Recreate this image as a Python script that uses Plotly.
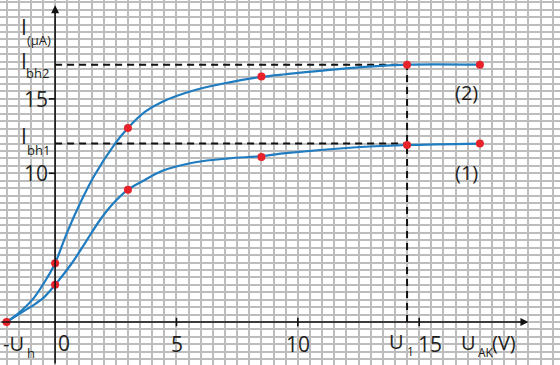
import plotly.graph_objects as go

# ---- data ----
U_h = 2.0
U_1 = 14.5
I_bh1 = 12.0
I_bh2 = 17.3

# curve (1) samples
u_c1 = [-2.0, -1.44, -0.89, -0.48, 0.0, 0.69, 1.31, 1.85, 2.4, 3.0, 3.64, 4.4, 5.77, 7.14, 8.5, 9.5, 12.0, 14.5, 17.5]
i_c1 = [0.0, 0.58, 1.14, 1.62, 2.5, 3.95, 5.51, 6.86, 7.98, 8.9, 9.5, 10.15, 10.74, 11.0, 11.15, 11.35, 11.7, 11.9, 12.0]
# curve (2) samples
u_c2 = [-2.0, -1.44, -0.89, -0.34, 0.0, 0.48, 1.03, 1.6, 2.47, 3.0, 3.71, 4.4, 5.77, 7.14, 8.5, 9.5, 12.0, 14.5, 17.5]
i_c2 = [0.0, 0.69, 1.59, 2.94, 3.95, 5.96, 7.98, 9.8, 12.0, 13.05, 14.14, 14.8, 15.6, 16.1, 16.48, 16.66, 17.05, 17.3, 17.3]

# red measured points
u_pts1 = [0.0, 3.0, 8.5, 14.5, 17.5]
i_pts1 = [2.5, 8.9, 11.1, 11.9, 12.0]
u_pts2 = [0.0, 3.0, 8.5, 14.5, 17.5]
i_pts2 = [3.95, 13.05, 16.5, 17.3, 17.3]

x_ticks = [5, 10, 15]
y_ticks = [10, 15]

W, H = 560, 365
XR = [-2.27, 20.8]
YR = [-2.89, 21.65]

BLUE = "#1f7cc0"
RED = "#e8222a"
TXT = "#231f20"
FONT = "Open Sans"

fig = go.Figure()

fig.add_trace(go.Scatter(x=u_c1, y=i_c1, mode="lines",
                         line=dict(color=BLUE, width=2.2, shape="spline", smoothing=0.9),
                         hoverinfo="skip", showlegend=False))
fig.add_trace(go.Scatter(x=u_c2, y=i_c2, mode="lines",
                         line=dict(color=BLUE, width=2.2, shape="spline", smoothing=0.9),
                         hoverinfo="skip", showlegend=False))
fig.add_trace(go.Scatter(x=[-U_h] + u_pts1 + u_pts2, y=[0] + i_pts1 + i_pts2, mode="markers",
                         marker=dict(color=RED, size=8), showlegend=False))

shapes = []
dash = dict(color="#111111", width=2, dash="7px,5px")
shapes.append(dict(type="line", xref="x", yref="y", x0=0, x1=U_1, y0=I_bh2, y1=I_bh2, line=dash, layer="between"))
shapes.append(dict(type="line", xref="x", yref="y", x0=0, x1=U_1, y0=I_bh1, y1=I_bh1, line=dash, layer="between"))
shapes.append(dict(type="line", xref="x", yref="y", x0=U_1, x1=U_1, y0=0, y1=I_bh2, line=dash, layer="between"))
for t in x_ticks:
    shapes.append(dict(type="line", xref="x", yref="y", x0=t, x1=t, y0=-0.28, y1=0.28,
                       line=dict(color="#111111", width=1.6)))
for t in y_ticks:
    shapes.append(dict(type="line", xref="x", yref="y", x0=-0.26, x1=0, y0=t, y1=t,
                       line=dict(color="#111111", width=1.6)))

ann = []
# axes with arrows
ann.append(dict(x=19.5, y=0, ax=XR[0], ay=0, xref="x", yref="y", axref="x", ayref="y",
                text="", showarrow=True, arrowhead=2, arrowsize=1, arrowwidth=1.6,
                arrowcolor="#111111", standoff=0))
ann.append(dict(x=0, y=21.3, ax=0, ay=YR[0], xref="x", yref="y", axref="x", ayref="y",
                text="", showarrow=True, arrowhead=2, arrowsize=1, arrowwidth=1.6,
                arrowcolor="#111111", standoff=0))


def txt(s, px, py, size, anchor="left"):
    ann.append(dict(text=s, x=px / W, y=1 - py / H, xref="paper", yref="paper",
                    xanchor=anchor, yanchor="middle", showarrow=False,
                    font=dict(family=FONT, size=size, color=TXT)))


txt("I", 19, 27, 21)
txt("(µA)", 25, 40, 13)
txt("I", 19, 61, 21)
txt("bh2", 24, 73, 13)
txt("I", 19, 136, 21)
txt("bh1", 25, 150, 13)
txt("15", 50, 99, 21, "right")
txt("10", 50, 173, 21, "right")
txt("-U", 1, 343, 20)
txt("h", 25, 353, 13)
txt("0", 64, 343, 21, "center")
txt("5", 177, 344, 21, "center")
txt("10", 298, 344, 21, "center")
txt("15", 430, 344, 21, "center")
txt("U", 387, 341, 20)
txt("1", 405, 351, 12)
txt("U", 459, 342, 20)
txt("AK", 476, 352, 12)
txt("(V)", 490, 342, 20)
txt("(2)", 466, 92, 20, "center")
txt("(1)", 466, 172, 20, "center")

grid = dict(showgrid=True, gridcolor="#bdbdbd", gridwidth=2, dtick=0.5, tick0=0,
            showticklabels=False, zeroline=False, showline=False, ticks="", fixedrange=True)

fig.update_layout(
    width=W, height=H, margin=dict(l=0, r=0, t=0, b=0),
    paper_bgcolor="white", plot_bgcolor="white",
    xaxis=dict(range=XR, **grid),
    yaxis=dict(range=YR, **grid),
    shapes=shapes, annotations=ann, showlegend=False,
)

fig.write_html("out.html",
               config={"displayModeBar": False, "responsive": False},
               post_script="document.body.style.margin='0';document.body.style.overflow='hidden';")
